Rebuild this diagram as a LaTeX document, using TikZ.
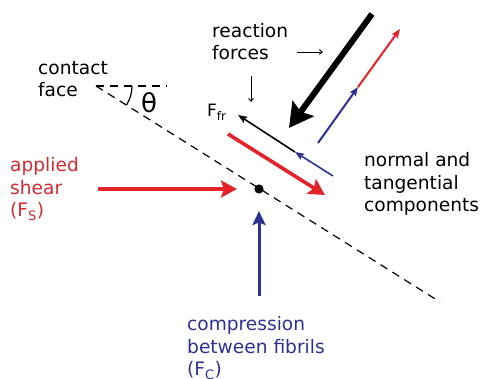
\documentclass[tikz,border=0pt]{standalone}
\usepackage{fontspec}
\setmainfont{DejaVu Sans}
\usetikzlibrary{arrows.meta}
\definecolor{fred}{HTML}{E4222A}
\definecolor{fblue}{HTML}{2E3192}
\definecolor{tred}{HTML}{D22B31}
\definecolor{tblue}{HTML}{2E3192}
\begin{document}
\begin{tikzpicture}[x=1pt,y=-1pt,
  lbl/.style={font=\fontsize{18.6}{22.5}\selectfont, align=left, inner sep=0pt, anchor=base west},
  dashline/.style={line width=1.2pt, dash pattern=on 8pt off 6pt},
  bigtip/.style={-{Stealth[length=16pt,width=17pt,inset=3pt]}},
  thintip/.style={-{Stealth[length=9pt,width=7pt,inset=1.5pt]}},
  notetip/.style={-{Straight Barb[length=3pt,width=5pt]}}]
\useasboundingbox[fill=white] (0,0) rectangle (483,379);
% contact face
\coordinate (c0) at (96,86);
\coordinate (c1) at (440,302);
\coordinate (h1) at (167,86);
\draw[dashline] (c0) -- (c1);
\draw[dashline] (c0) -- (h1);
\draw[line width=1.2pt] (c0) ++(36,0) arc[start angle=0,end angle=32,radius=36];
\node[font=\fontsize{26}{30}\selectfont, inner sep=0pt] (theta) at (149,103) {θ};
% dot
\fill (259,189) circle[radius=4.6];
% reaction force (black thick)
\coordinate (r0) at (372,14);
\coordinate (r1) at (289,128);
\draw[line width=6pt, -{Stealth[length=24pt,width=26pt,inset=4pt]}] (r0) -- (r1);
% normal components
\coordinate (n0) at (318,143);
\coordinate (n1) at (358,87);
\coordinate (n2) at (400,29);
\draw[fblue, line width=2pt, thintip] (n0) -- (n1);
\draw[fred, line width=2pt, thintip] (n1) -- (n2);
% friction / tangential
\coordinate (f0) at (333,176);
\coordinate (f1) at (295,152);
\coordinate (f2) at (238,115);
\draw[fblue, line width=1.6pt, thintip] (f0) -- (f1);
\draw[line width=1.6pt, thintip] (f1) -- (f2);
\coordinate (t0) at (228,134);
\coordinate (t1) at (325,195);
\draw[fred, line width=3.6pt, bigtip] (t0) -- (t1);
% applied shear
\coordinate (s0) at (98,189);
\coordinate (s1) at (237,189);
\draw[fred, line width=4pt, bigtip] (s0) -- (s1);
% compression
\coordinate (p0) at (259,296);
\coordinate (p1) at (259,211);
\draw[fblue, line width=3pt, -{Stealth[length=14pt,width=13pt,inset=2.5pt]}] (p0) -- (p1);
% annotation arrows
\coordinate (a0) at (297,52);
\coordinate (a1) at (323,52);
\coordinate (b0) at (251,76);
\coordinate (b1) at (251,102);
\draw[line width=0.9pt, notetip] (a0) -- (a1);
\draw[line width=0.9pt, notetip] (b0) -- (b1);
% labels (anchor = baseline of last line)
\node[lbl] (contact) at (38,97) {contact\\face};
\node[lbl] (reaction) at (212,60) {reaction\\forces};
\node[lbl] (normal) at (364,212) {normal and\\tangential\\components};
\node[lbl, text=tred] (shear) at (10,217) {applied\\shear\\(F\textsubscript{S})};
\node[lbl, text=tblue] (compr) at (187,376) {compression\\between fibrils\\(F\textsubscript{C})};
\node[font=\fontsize{17}{20}\selectfont, inner sep=0pt, anchor=base west] (ffr) at (207,117) {F\textsubscript{fr}};
\end{tikzpicture}
\end{document}
